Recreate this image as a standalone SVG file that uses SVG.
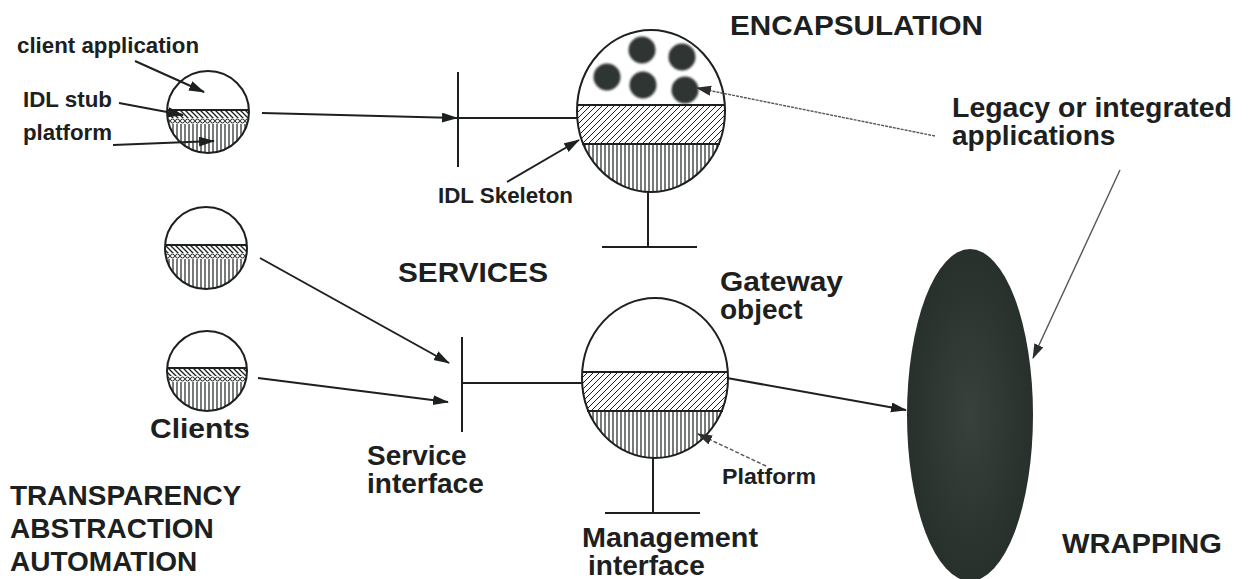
<svg xmlns="http://www.w3.org/2000/svg" width="1248" height="579" viewBox="0 0 1248 579">
<style>
text{font-family:"Liberation Sans",Arial,sans-serif;font-weight:bold;fill:#1c201e}
.big{font-size:28px}
.mid{font-size:22px}
.sm{font-size:22px}
.ol{fill:none;stroke:#1c201e;stroke-width:2}
.ln{stroke:#1c201e;stroke-width:2;fill:none}
.arr{stroke:#1c201e;stroke-width:2;fill:none;marker-end:url(#ah)}
.arrg{stroke:#555;stroke-width:1.4;fill:none;marker-end:url(#ahg)}
.dot{fill:#2f3431;filter:url(#fz)}
</style>
<defs>
<marker id="ah" markerUnits="userSpaceOnUse" markerWidth="16" markerHeight="12" refX="15" refY="5" orient="auto"><path d="M0,0 L16,5 L0,10 z" fill="#1c201e"/></marker>
<marker id="ahg" markerUnits="userSpaceOnUse" markerWidth="16" markerHeight="12" refX="14" refY="5" orient="auto"><path d="M0,0 L15,5 L0,10 z" fill="#2a2f2c"/></marker>
<pattern id="hb" width="5" height="5" patternUnits="userSpaceOnUse"><path d="M0,0 L5,5 M-1,4 L1,6 M4,-1 L6,1" stroke="#1c201e" stroke-width="1.3"/></pattern>
<pattern id="hf" width="6" height="6" patternUnits="userSpaceOnUse"><path d="M0,6 L6,0 M-1,1 L1,-1 M5,7 L7,5" stroke="#1c201e" stroke-width="1"/></pattern>
<pattern id="vl" width="4" height="4" patternUnits="userSpaceOnUse"><line x1="1" y1="0" x2="1" y2="4" stroke="#1c201e" stroke-width="1.2"/></pattern>
<pattern id="dr1" x="0" y="118" width="5" height="6" patternUnits="userSpaceOnUse"><circle cx="2.5" cy="3" r="2" fill="none" stroke="#1c201e" stroke-width="1"/></pattern>
<pattern id="dr2" x="0" y="253" width="5" height="6" patternUnits="userSpaceOnUse"><circle cx="2.5" cy="3" r="2" fill="none" stroke="#1c201e" stroke-width="1"/></pattern>
<pattern id="dr3" x="0" y="376" width="5" height="6" patternUnits="userSpaceOnUse"><circle cx="2.5" cy="3" r="2" fill="none" stroke="#1c201e" stroke-width="1"/></pattern>
<clipPath id="c1"><circle cx="208" cy="112" r="41"/></clipPath>
<clipPath id="c2"><circle cx="206" cy="248" r="41"/></clipPath>
<clipPath id="c3"><circle cx="207" cy="371" r="40"/></clipPath>
<clipPath id="ce"><ellipse cx="651" cy="111" rx="74" ry="81"/></clipPath>
<clipPath id="cg"><ellipse cx="655" cy="378" rx="73" ry="80"/></clipPath>
<filter id="fz" x="-30%" y="-30%" width="160%" height="160%"><feGaussianBlur stdDeviation="0.9"/></filter>
<radialGradient id="wg" cx="50%" cy="50%" r="50%"><stop offset="0" stop-color="#38413b"/><stop offset="1" stop-color="#27302a"/></radialGradient>
</defs>
<rect width="1248" height="579" fill="#ffffff"/>

<g id="client1">
<g clip-path="url(#c1)">
<rect x="160" y="110" width="100" height="8" fill="url(#hb)"/>
<rect x="160" y="118" width="100" height="6" fill="url(#dr1)"/>
<rect x="160" y="124" width="100" height="40" fill="url(#vl)"/>
</g>
<line class="ln" x1="167" y1="110" x2="249" y2="110"/>
<circle class="ol" cx="208" cy="112" r="41"/>
</g>

<g id="client2">
<g clip-path="url(#c2)">
<rect x="160" y="245" width="100" height="8" fill="url(#hb)"/>
<rect x="160" y="253" width="100" height="6" fill="url(#dr2)"/>
<rect x="160" y="259" width="100" height="40" fill="url(#vl)"/>
</g>
<line class="ln" x1="166" y1="245" x2="247" y2="245"/>
<circle class="ol" cx="206" cy="248" r="41"/>
</g>

<g id="client3">
<g clip-path="url(#c3)">
<rect x="160" y="368" width="100" height="8" fill="url(#hb)"/>
<rect x="160" y="376" width="100" height="6" fill="url(#dr3)"/>
<rect x="160" y="382" width="100" height="40" fill="url(#vl)"/>
</g>
<line class="ln" x1="167" y1="368" x2="247" y2="368"/>
<circle class="ol" cx="207" cy="371" r="40"/>
<text class="big" x="150" y="438" textLength="100" lengthAdjust="spacingAndGlyphs">Clients</text>
</g>

<g id="encapsulation-object">
<g clip-path="url(#ce)">
<rect x="570" y="105" width="160" height="39" fill="url(#hf)"/>
<rect x="570" y="144" width="160" height="50" fill="url(#vl)"/>
</g>
<line class="ln" x1="577" y1="105" x2="725" y2="105"/>
<line class="ln" x1="582" y1="144" x2="720" y2="144"/>
<ellipse class="ol" cx="651" cy="111" rx="74" ry="81"/>
<circle class="dot" cx="642" cy="50" r="13.5"/>
<circle class="dot" cx="682" cy="57" r="13.5"/>
<circle class="dot" cx="607" cy="77" r="13.5"/>
<circle class="dot" cx="643" cy="85" r="13.5"/>
<circle class="dot" cx="685" cy="90" r="13.5"/>
<line class="ln" x1="648" y1="192" x2="648" y2="247"/>
<line class="ln" x1="602" y1="247" x2="697" y2="247"/>
<text class="big" x="730" y="35" textLength="253" lengthAdjust="spacingAndGlyphs">ENCAPSULATION</text>
</g>

<g id="gateway-object">
<g clip-path="url(#cg)">
<rect x="575" y="372" width="160" height="39" fill="url(#hf)"/>
<rect x="575" y="411" width="160" height="50" fill="url(#vl)"/>
</g>
<line class="ln" x1="582" y1="372" x2="728" y2="372"/>
<line class="ln" x1="587" y1="411" x2="723" y2="411"/>
<ellipse class="ol" cx="655" cy="378" rx="73" ry="80"/>
<line class="ln" x1="653" y1="458" x2="653" y2="513"/>
<line class="ln" x1="605" y1="513" x2="700" y2="513"/>
<text class="big" x="720" y="291" textLength="123" lengthAdjust="spacingAndGlyphs">Gateway</text>
<text class="big" x="720" y="319">object</text>
<text class="big" x="582" y="547" textLength="176" lengthAdjust="spacingAndGlyphs">Management</text>
<text class="big" x="588" y="575">interface</text>
</g>

<g id="wrapping">
<ellipse cx="970" cy="415" rx="63" ry="166" fill="url(#wg)"/>
<text class="big" x="1062" y="553" textLength="160" lengthAdjust="spacingAndGlyphs">WRAPPING</text>
</g>

<g id="idl-interface-bar">
<line class="ln" x1="458" y1="72" x2="458" y2="167"/>
</g>

<g id="service-interface">
<line class="ln" x1="462" y1="337" x2="462" y2="432"/>
<text class="big" x="367" y="465">Service</text>
<text class="big" x="367" y="493">interface</text>
</g>

<g id="labels">
<text class="sm" x="17" y="53" textLength="182" lengthAdjust="spacingAndGlyphs">client application</text>
<text class="sm" x="23" y="107" textLength="89" lengthAdjust="spacingAndGlyphs">IDL stub</text>
<text class="sm" x="23" y="140" textLength="89" lengthAdjust="spacingAndGlyphs">platform</text>
<text class="sm" x="438" y="203" textLength="135" lengthAdjust="spacingAndGlyphs">IDL Skeleton</text>
<text class="mid" x="722" y="484" textLength="94" lengthAdjust="spacingAndGlyphs">Platform</text>
<text class="big" x="398" y="282" textLength="150" lengthAdjust="spacingAndGlyphs">SERVICES</text>
<text class="big" x="952" y="117" textLength="280" lengthAdjust="spacingAndGlyphs">Legacy or integrated</text>
<text class="big" x="952" y="145">applications</text>
<text class="big" x="10" y="505">TRANSPARENCY</text>
<text class="big" x="10" y="538">ABSTRACTION</text>
<text class="big" x="10" y="571">AUTOMATION</text>
</g>

<g id="connectors">
<line class="arr" x1="262" y1="113" x2="457" y2="118"/>
<line class="ln" x1="458" y1="118" x2="577" y2="118"/>
<line class="arr" x1="260" y1="258" x2="449" y2="363"/>
<line class="arr" x1="258" y1="378" x2="448" y2="402"/>
<line class="ln" x1="462" y1="383" x2="582" y2="383"/>
<line class="arr" x1="727" y1="378" x2="906" y2="410"/>
<line class="arrg" x1="1120" y1="170" x2="1033" y2="358"/>
<line class="arrg" x1="935" y1="136" x2="697" y2="88" stroke-dasharray="3 1"/>
<line class="arr" x1="135" y1="61" x2="204" y2="92"/>
<line class="arr" x1="119" y1="103" x2="183" y2="115"/>
<line class="arr" x1="113" y1="145" x2="214" y2="141"/>
<line class="arr" x1="507" y1="182" x2="579" y2="140"/>
<line class="arrg" x1="766" y1="466" x2="698" y2="434" stroke-dasharray="4 2"/>
</g>
</svg>
